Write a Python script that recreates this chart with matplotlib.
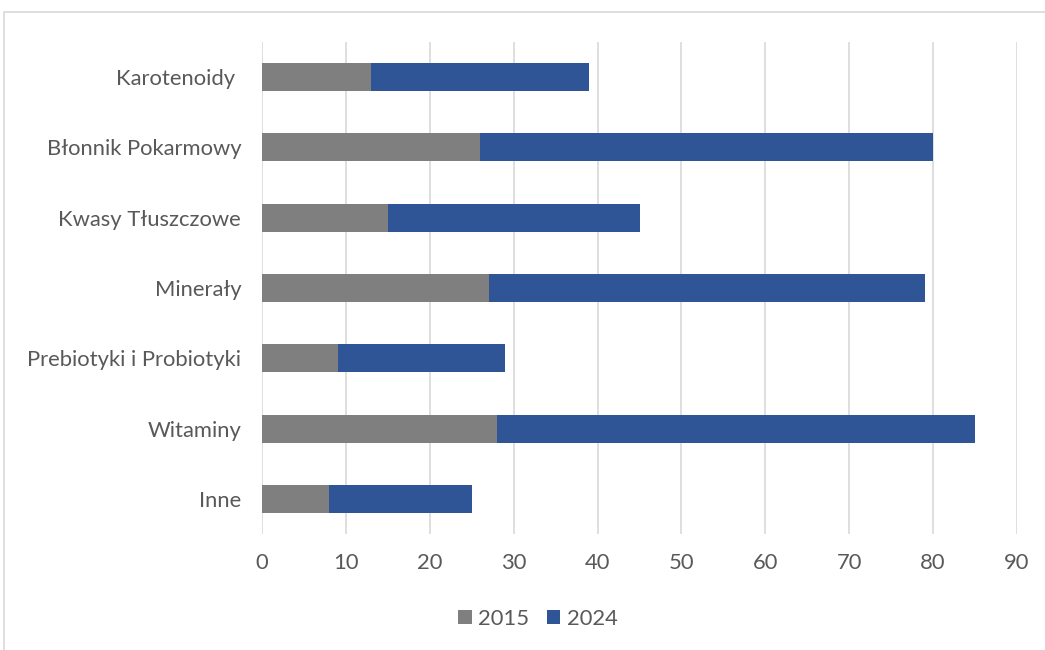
import matplotlib.pyplot as plt
from matplotlib.patches import Rectangle

categories = ['Karotenoidy ', 'Błonnik Pokarmowy', 'Kwasy Tłuszczowe', 'Minerały',
              'Prebiotyki i Probiotyki', 'Witaminy', 'Inne']
values_2015 = [13, 26, 15, 27, 9, 28, 8]
values_2024 = [26, 54, 30, 52, 20, 57, 17]
x_ticks = [0, 10, 20, 30, 40, 50, 60, 70, 80, 90]

plt.rcParams['font.family'] = ['Lato', 'DejaVu Sans']

fig = plt.figure(figsize=(10.45, 6.5), dpi=100)
ax = fig.add_axes([262 / 1045, 1 - 534 / 650, (1017 - 262) / 1045, (534 - 42) / 650])

# outer chart frame
fig.patches.append(Rectangle((4 / 1045, -0.1), 1.2, 1 - 12 / 650 + 0.1, transform=fig.transFigure,
                             fill=False, edgecolor='#d9d9d9', linewidth=1.2))

y = list(range(len(categories)))
ax.barh(y, values_2015, height=0.4, color='#7f7f7f', label='2015', zorder=3)
ax.barh(y, values_2024, left=values_2015, height=0.4, color='#2f5597', label='2024', zorder=3)

ax.set_ylim(len(categories) - 0.5, -0.5)
ax.set_yticks(y)
ax.set_yticklabels(categories)
ax.set_xlim(0, 90)
ax.set_xticks(x_ticks)
ax.grid(axis='x', color='#d9d9d9', linewidth=1.2, zorder=0)
for s in ax.spines.values():
  s.set_visible(False)
ax.tick_params(length=0, labelsize=15.8, colors='#595959')
ax.tick_params(axis='y', pad=15)
ax.tick_params(axis='x', pad=14)

fig.legend(loc='center', bbox_to_anchor=(538 / 1045, 1 - 619 / 650), ncol=2, frameon=False,
           fontsize=15.8, labelcolor='#595959', handlelength=0.6, handleheight=0.6,
           handletextpad=0.3, columnspacing=0.8)

fig.savefig('out.png', dpi=100)
